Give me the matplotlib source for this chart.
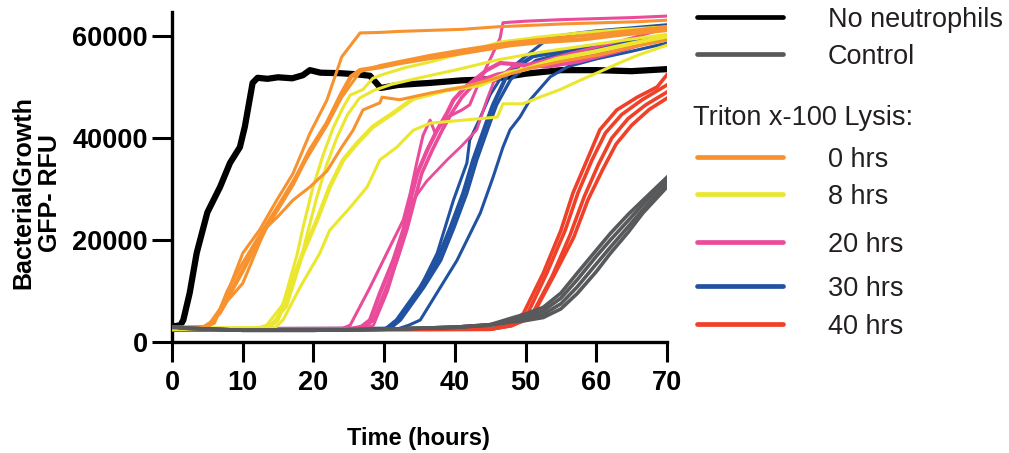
import matplotlib
matplotlib.use("Agg")
import matplotlib.pyplot as plt
from matplotlib.lines import Line2D

# ---------------- data (hours, GFP RFU) ----------------
no_neut_t = [0, 1.2, 1.6, 2.5, 3.5, 5.0, 6.8, 8.2, 9.6, 10.3, 10.9, 11.4, 12.1, 13.5, 15, 17, 18.5, 19.5,
             21, 23.8, 26, 28, 29.5, 32, 36.5, 41, 45, 50, 55, 60, 65, 70]
no_neut_v = [3000, 3300, 4300, 9600, 17500, 25400, 30400, 35100, 38200, 42200, 46900, 50800, 51800, 51600,
             51900, 51700, 52300, 53300, 52800, 52700, 52500, 52200, 49800, 50400, 50800, 51300, 51500,
             52600, 53300, 53300, 53100, 53500]

control_t = [
    [0, 2, 10, 20, 30, 40, 45, 47.8, 50, 52.5, 55, 57.3, 60, 62, 64.5, 66.6, 70],
    [0, 2, 10, 20, 30, 40, 45, 47.8, 50, 52.5, 55, 57.3, 60, 62, 64.5, 66.6, 70],
    [0, 2, 10, 20, 30, 40, 45, 47.8, 50, 52.5, 55, 57.3, 60, 62, 64.5, 66.6, 70],
    [0, 2, 10, 20, 30, 40, 45, 47.8, 50, 52.5, 55, 57.3, 60, 62, 64.5, 66.6, 70],
]
control_v = [
    [3000, 2700, 2300, 2300, 2500, 2900, 3400, 4600, 5500, 6800, 9600, 13500, 18000, 21300, 25000, 27800, 32300],
    [3000, 2700, 2300, 2300, 2500, 2900, 3300, 3900, 4200, 4800, 6500, 9500, 13800, 17400, 21500, 25300, 30400],
    [3000, 2700, 2300, 2300, 2500, 2900, 3400, 4300, 5000, 6100, 8600, 12200, 16800, 20000, 23800, 27000, 31800],
    [3000, 2700, 2300, 2300, 2500, 2900, 3300, 4100, 4600, 5400, 7500, 10800, 15300, 18600, 22600, 26000, 31000],
]

lysis0_t = [
    [0, 4.5, 5.4, 6.8, 7.8, 10.0, 12.4, 14.9, 17.1, 19.5, 21.9, 24.0, 26.6, 29.5, 32.2, 36.5, 41, 46, 51, 56, 61, 66, 70],
    [0, 4.5, 5.8, 7.8, 10.0, 12.4, 14.9, 17.1, 19.5, 21.9, 24.0, 25.3, 26.6, 29.4, 32.2, 36.5, 41.2, 47.8, 52, 57.7, 63, 70],
    [0, 4.8, 6.0, 7.8, 10.0, 12.4, 14.9, 17.1, 19.5, 21.9, 24.0, 26.6, 29.4, 32.2, 36.5, 41.2, 47.8, 52, 57.7, 63, 70],
    [0, 4.5, 5.4, 6.8, 7.8, 10.0, 12.4, 13.4, 14.9, 17.1, 19.5, 21.9, 24.0, 25.6, 27.0, 29.4, 29.7, 32.2, 36.5, 41.2,
     46, 50.6, 55, 60.5, 65, 70],
]
lysis0_v = [
    [2800, 2900, 3800, 6500, 9500, 17400, 22000, 28000, 33000, 40900, 47400, 55900, 60600, 60700, 60900, 61100,
     61300, 61800, 62100, 62400, 62600, 62800, 63100],
    [2800, 2900, 3900, 8500, 14000, 20500, 26000, 31000, 37600, 42900, 48800, 52000, 53300, 53900, 54700, 55700,
     56700, 58200, 58800, 59300, 60200, 61200],
    [2800, 2900, 3700, 10000, 15500, 21000, 26500, 31500, 37000, 42500, 48000, 53000, 54200, 55000, 56200, 57300,
     58700, 59300, 60000, 60800, 61800],
    [2800, 2900, 3800, 5600, 8000, 11500, 19500, 22500, 24500, 27800, 30400, 33500, 38200, 41500, 45500, 46900,
     48000, 47500, 48800, 50000, 51800, 53700, 55000, 56300, 57800, 59200],
]

lysis8_t = [
    [0, 12, 13.4, 15.7, 17.7, 18.5, 19.9, 21.4, 22.8, 24.2, 25.2, 27, 28.4, 29.7, 33, 36.5, 41, 46.4, 52, 57.7, 63, 70],
    [0, 12.5, 14.0, 16.2, 18.0, 19.0, 20.4, 21.8, 23.3, 24.8, 26.5, 28.5, 31, 35, 40, 46, 52, 58, 64, 70],
    [0, 13.5, 14.9, 16.7, 18.5, 20.5, 22.3, 24.2, 26.2, 28.4, 31.3, 34.1, 38.9, 43.6, 47.4, 50, 54.5, 60, 65, 70],
    [0, 14.5, 15.7, 18.1, 20.9, 22.3, 25.2, 27.6, 29.4, 31.8, 34.1, 36.5, 41.2, 46.0, 46.8, 49.6, 52, 54.9, 57.7,
     60.5, 63.4, 66, 70],
]
lysis8_v = [
    [2600, 2700, 3300, 7400, 17200, 22300, 30200, 36800, 42000, 46000, 48400, 49500, 51700, 52400, 53800, 54900,
     56600, 58800, 59800, 60600, 61200, 61800],
    [2600, 2700, 3300, 7000, 15000, 20500, 28000, 34500, 40000, 44500, 47800, 49300, 50500, 51800, 53300, 55300,
     56800, 58000, 59200, 60300],
    [2600, 2700, 4300, 10700, 17400, 23900, 30400, 35700, 39000, 42200, 44900, 47700, 49400, 50400, 52700, 53500,
     55500, 57000, 58500, 59800],
    [2600, 2700, 4300, 10700, 17400, 21900, 26400, 30400, 35700, 38200, 41500, 42900, 43500, 44100, 46700, 46700,
     48000, 49500, 51300, 53000, 54800, 56300, 58200],
]

lysis20_t = [
    [0, 24, 25.2, 28.0, 30.8, 32.7, 33.7, 34.7, 35.5, 36.5, 37.2, 39.0, 41.0, 42.1, 43.3, 44.6, 46.4, 46.8, 50, 55,
     60, 65, 70],
    [0, 25.5, 26.8, 28.0, 29.4, 31.3, 32.7, 33.7, 34.7, 36.1, 37.5, 38.9, 39.8, 41.5, 44.5, 46.4, 50, 53, 57.5, 63, 70],
    [0, 26, 27.2, 28.5, 30.0, 31.8, 33.2, 34.3, 35.3, 36.8, 38.2, 39.6, 41, 43, 46, 50, 55, 60, 65, 70],
    [0, 27, 28.5, 30.5, 32.7, 34.1, 36.0, 38.9, 41.0, 43.1, 44.5, 45.5, 48, 52, 56, 62, 66, 70],
]
lysis20_v = [
    [2500, 2600, 3300, 10700, 18600, 23900, 29200, 35700, 40500, 43500, 41000, 44100, 45500, 46500, 50500, 54300,
     59600, 62600, 62900, 63200, 63400, 63600, 63900],
    [2500, 2600, 3000, 4300, 9560, 16040, 21930, 27820, 33100, 37640, 41560, 44900, 47450, 50000, 53300, 54700,
     54300, 54000, 55000, 57000, 59800],
    [2500, 2600, 3000, 4300, 9500, 16000, 22000, 27800, 33000, 37600, 41500, 45000, 48000, 51000, 52500, 53500,
     55000, 56700, 58500, 60200],
    [2500, 2600, 3300, 10000, 20000, 27800, 31500, 35700, 38500, 41600, 47400, 51000, 53800, 55000, 56500, 58500,
     60000, 61500],
]

lysis30_t = [
    [0, 30, 31.3, 32.2, 35.1, 37.5, 39.8, 41.7, 42.1, 43.6, 45.0, 46.8, 50, 53.5, 57, 60, 65, 70],
    [0, 30.3, 31.8, 35.1, 37.5, 39.4, 41.2, 42.6, 43.6, 44.6, 45.4, 47.4, 49.2, 51, 55, 60, 65, 70],
    [0, 30.8, 32.3, 35.6, 38.0, 39.9, 41.7, 43.1, 44.1, 45.1, 45.9, 47.9, 49.7, 51.5, 55, 60, 65, 70],
    [0, 32, 33.5, 35.1, 40.3, 43.6, 45.4, 46.8, 47.8, 49.2, 50.6, 53.5, 56, 60, 65, 70],
]
lysis30_v = [
    [2500, 2600, 3300, 4300, 10700, 17400, 27800, 35100, 39600, 44000, 48500, 52400, 56000, 59800, 60500, 61000,
     61600, 62200],
    [2500, 2600, 4300, 10700, 16000, 22500, 29200, 35700, 39600, 43500, 46500, 52400, 54300, 56000, 57000, 58000,
     59000, 60000],
    [2500, 2600, 4300, 10700, 16000, 22500, 29200, 35700, 39600, 43500, 46500, 51500, 53500, 55200, 56500, 57500,
     58600, 59600],
    [2500, 2600, 3300, 4300, 16000, 25300, 32300, 38200, 41600, 44100, 47400, 52000, 54000, 55500, 57000, 58600],
]

lysis40_t = [
    [0, 45, 47.0, 48.5, 49.7, 52.5, 55.0, 56.7, 58.7, 60.5, 62.9, 65.8, 68.6, 70],
    [0, 45, 47.5, 49.0, 50.3, 53.0, 55.6, 57.4, 59.4, 61.3, 63.6, 66.5, 70],
    [0, 45, 48.0, 49.5, 51.0, 53.8, 56.3, 58.3, 60.3, 62.2, 64.5, 67.0, 70],
    [0, 45, 48.0, 49.8, 51.3, 54.0, 56.8, 58.8, 60.9, 62.8, 65.0, 67.5, 70],
]
lysis40_v = [
    [2400, 2500, 3200, 4200, 5600, 13500, 21900, 29200, 35700, 41600, 45500, 48000, 50000, 52400],
    [2400, 2500, 3200, 4200, 5600, 13500, 21900, 29200, 35700, 41000, 44600, 47500, 50400],
    [2400, 2500, 3200, 4200, 5600, 13000, 21000, 28500, 34800, 40000, 43800, 46500, 49000],
    [2400, 2500, 3200, 4200, 6000, 13000, 20500, 27800, 33800, 38800, 42500, 45600, 47800],
]

x_ticks = [0, 10, 20, 30, 40, 50, 60, 70]
y_ticks = [0, 20000, 40000, 60000]

legend_labels = ["No neutrophils", "Control", "0 hrs", "8 hrs", "20 hrs", "30 hrs", "40 hrs"]
legend_header = "Triton x-100 Lysis:"

# ---------------- style ----------------
C_BLACK = "#000000"
C_GRAY = "#58595b"
C_ORANGE = "#f7922f"
C_YELLOW = "#ebe72f"
C_PINK = "#ea4c9b"
C_BLUE = "#2151a1"
C_RED = "#ef4129"

FONT = ["Liberation Sans", "DejaVu Sans"]
plt.rcParams["font.family"] = FONT

W, H = 1009, 453
fig = plt.figure(figsize=(W / 100, H / 100), dpi=100)
ax = fig.add_axes([172 / W, 1 - 342 / H, (667 - 172) / W, (342 - 12) / H])

ax.plot(no_neut_t, no_neut_v, color=C_BLACK, lw=4.5, solid_joinstyle="round", zorder=2)

groups = [
    (lysis40_t, lysis40_v, C_RED, [2.6, 2.6, 2.6, 2.6]),
    (lysis30_t, lysis30_v, C_BLUE, [2.2, 3.0, 2.4, 2.2]),
    (lysis20_t, lysis20_v, C_PINK, [2.2, 3.0, 2.6, 2.0]),
    (lysis8_t, lysis8_v, C_YELLOW, [2.2, 2.2, 3.2, 2.2]),
    (lysis0_t, lysis0_v, C_ORANGE, [2.2, 3.2, 2.2, 2.2]),
]
for ts, vs, col, lws in groups:
    for t, v, lw in zip(ts, vs, lws):
        ax.plot(t, v, color=col, lw=lw, solid_joinstyle="round", zorder=3)

for t, v in zip(control_t, control_v):
    ax.plot(t, v, color=C_GRAY, lw=2.6, solid_joinstyle="round", zorder=4)

ax.set_xlim(0, 70)
ax.set_ylim(0, 64700)
ax.set_xticks(x_ticks)
ax.set_yticks(y_ticks)
ax.set_xticklabels([str(x) for x in x_ticks])
ax.set_yticklabels([str(y) for y in y_ticks])
for s in ["top", "right"]:
    ax.spines[s].set_visible(False)
for s in ["left", "bottom"]:
    ax.spines[s].set_linewidth(2.4)
ax.tick_params(axis="both", direction="out", length=14.5, width=2.2, labelsize=19.5)
ax.tick_params(axis="y", pad=3)
ax.tick_params(axis="x", pad=6)
for lab in ax.get_xticklabels() + ax.get_yticklabels():
    lab.set_fontweight("bold")

fig.text(418 / W, 1 - 438 / H, "Time (hours)", ha="center", va="center",
         fontsize=17, fontweight="bold")
fig.text(37 / W, 1 - 193 / H, "BacterialGrowth\nGFP- RFU", ha="center", va="center",
         rotation=90, fontsize=18, fontweight="bold", linespacing=1.15, multialignment="center")

# ---------------- legend ----------------
leg_colors = [C_BLACK, C_GRAY, C_ORANGE, C_YELLOW, C_PINK, C_BLUE, C_RED]
leg_y = [17, 54, 157, 194, 242, 286, 324]
for col, lab, y in zip(leg_colors, legend_labels, leg_y):
    fig.add_artist(Line2D([697 / W, 783 / W], [1 - y / H, 1 - y / H], transform=fig.transFigure,
                          color=col, lw=3.4, solid_capstyle="round"))
    fig.text(828 / W, 1 - y / H, lab, ha="left", va="center_baseline", fontsize=19.5, color="#231f20")
fig.text(693 / W, 1 - 115 / H, legend_header, ha="left", va="center_baseline", fontsize=19.5, color="#231f20")

fig.savefig("out.png", dpi=100)
